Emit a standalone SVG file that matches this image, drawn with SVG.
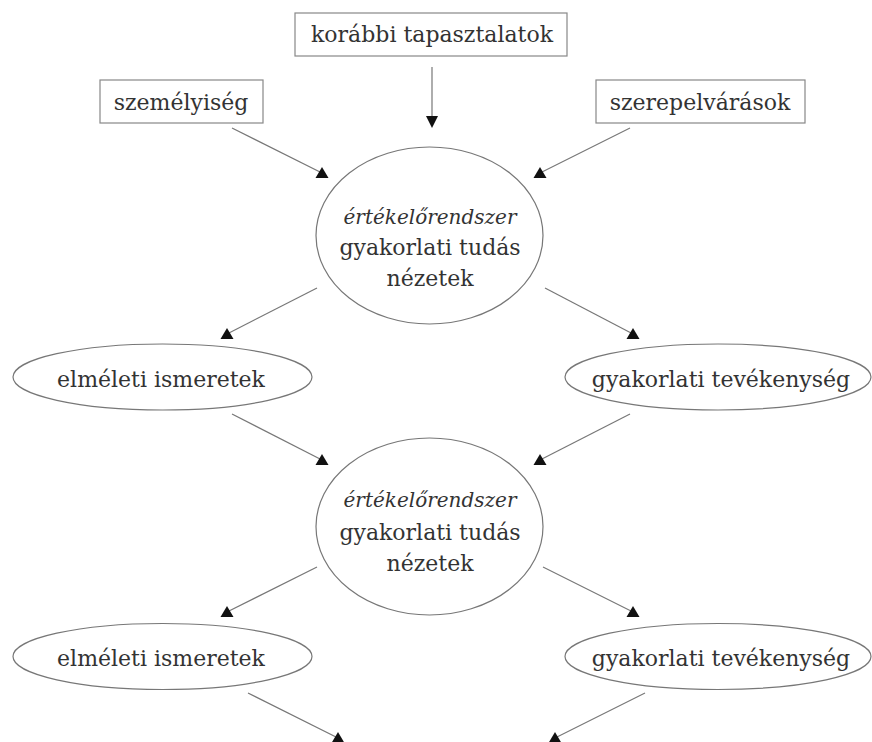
<svg xmlns="http://www.w3.org/2000/svg" width="872" height="742" viewBox="0 0 872 742">
<style>
  .box { fill: #fff; stroke: #888; stroke-width: 1.2; }
  .ell { fill: #fff; stroke: #777; stroke-width: 1.2; }
  .t { font-family: "DejaVu Serif", serif; font-size: 22px; fill: #333; text-anchor: middle; }
  .it { font-style: italic; font-size: 20px; }
  .conn line { stroke: #777; stroke-width: 1.2; }
  .up { marker-end: url(#triUp); }
  .down { marker-end: url(#triDown); }
</style>
<defs>
  <marker id="triUp" markerUnits="userSpaceOnUse" markerWidth="14" markerHeight="12" refX="6.5" refY="6" orient="0" overflow="visible">
    <path d="M0,11 L6.5,0 L13,11 Z" fill="#111"/>
  </marker>
  <marker id="triDown" markerUnits="userSpaceOnUse" markerWidth="14" markerHeight="12" refX="6" refY="5" orient="0" overflow="visible">
    <path d="M0,0 L12,0 L6,12 Z" fill="#111"/>
  </marker>
</defs>
<rect width="872" height="742" fill="#fff"/>

<g id="connectors" class="conn">
  <line class="down" x1="432" y1="67" x2="432" y2="121"/>
  <line class="up" x1="232" y1="128" x2="322" y2="173"/>
  <line class="up" x1="630" y1="128" x2="540" y2="173"/>
  <line class="up" x1="317" y1="288" x2="227" y2="334"/>
  <line class="up" x1="545" y1="288" x2="633" y2="334"/>
  <line class="up" x1="232" y1="414" x2="322" y2="460"/>
  <line class="up" x1="630" y1="414" x2="540" y2="460"/>
  <line class="up" x1="317" y1="567" x2="227" y2="612"/>
  <line class="up" x1="543" y1="567" x2="633" y2="612"/>
  <line class="up" x1="248" y1="693" x2="338" y2="738"/>
  <line class="up" x1="645" y1="693" x2="555" y2="738"/>
</g>

<g id="korabbi">
  <rect class="box" x="295" y="13" width="272" height="43"/>
  <text class="t" x="432" y="42">korábbi tapasztalatok</text>
</g>
<g id="szemelyiseg">
  <rect class="box" x="100" y="80" width="163" height="43"/>
  <text class="t" x="181" y="110">személyiség</text>
</g>
<g id="szerepelvarasok">
  <rect class="box" x="596" y="80" width="209" height="43"/>
  <text class="t" x="700" y="110">szerepelvárások</text>
</g>

<g id="ertekelo1">
  <ellipse class="ell" cx="429.5" cy="235.5" rx="113.5" ry="88.5"/>
  <text class="t it" x="430" y="224">értékelőrendszer</text>
  <text class="t" x="430" y="255">gyakorlati tudás</text>
  <text class="t" x="430" y="286">nézetek</text>
</g>
<g id="elmeleti1">
  <ellipse class="ell" cx="162.5" cy="377" rx="149.5" ry="33"/>
  <text class="t" x="161" y="387">elméleti ismeretek</text>
</g>
<g id="gyakorlati1">
  <ellipse class="ell" cx="718" cy="377" rx="153" ry="33"/>
  <text class="t" x="721" y="387">gyakorlati tevékenység</text>
</g>

<g id="ertekelo2">
  <ellipse class="ell" cx="429.5" cy="526.5" rx="113.5" ry="88.5"/>
  <text class="t it" x="430" y="507">értékelőrendszer</text>
  <text class="t" x="430" y="540">gyakorlati tudás</text>
  <text class="t" x="430" y="571">nézetek</text>
</g>
<g id="elmeleti2">
  <ellipse class="ell" cx="162.5" cy="656.5" rx="149.5" ry="33"/>
  <text class="t" x="161" y="666">elméleti ismeretek</text>
</g>
<g id="gyakorlati2">
  <ellipse class="ell" cx="718" cy="656.5" rx="153" ry="33"/>
  <text class="t" x="721" y="666">gyakorlati tevékenység</text>
</g>
</svg>
